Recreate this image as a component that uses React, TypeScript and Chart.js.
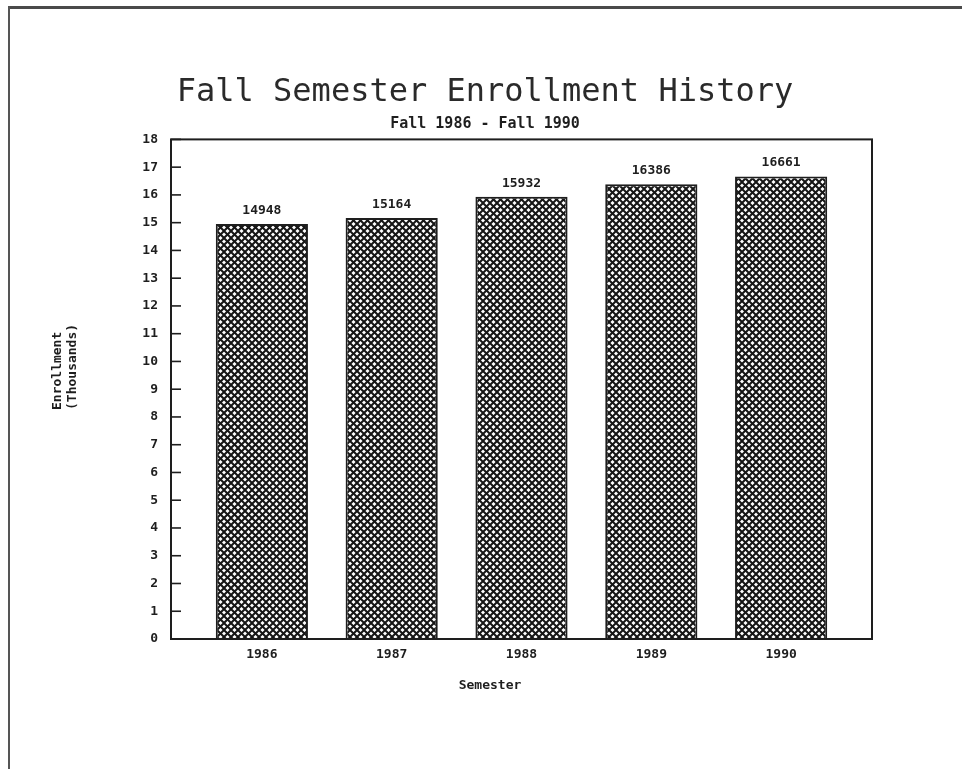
import React, { useEffect, useRef } from "react";
import { Chart, registerables } from "chart.js";

Chart.register(...registerables);

// ---- data ----
const semesters = [1986, 1987, 1988, 1989, 1990];
const enrollment = [14948, 15164, 15932, 16386, 16661];
const yMin = 0;
const yMax = 18;
const xMin = 1985.3;
const xMax = 1990.7;
const titleText = "Fall Semester Enrollment History";
const subtitleText = "Fall 1986 - Fall 1990";
const xAxisTitle = "Semester";
const yAxisTitle = ["Enrollment", "(Thousands)"];

const MONO = "'DejaVu Sans Mono', monospace";
const INK = "#1e1e1e";

function makeHatch(): CanvasPattern | string {
  const n = 7;
  const c = document.createElement("canvas");
  c.width = n;
  c.height = n;
  const g = c.getContext("2d");
  if (!g) return "#555";
  g.fillStyle = "#ffffff";
  g.fillRect(0, 0, n, n);
  g.strokeStyle = "#161616";
  g.lineWidth = 2;
  for (const o of [-n, 0, n]) {
    g.beginPath();
    g.moveTo(o, 0);
    g.lineTo(o + n, n);
    g.stroke();
    g.beginPath();
    g.moveTo(o + n, 0);
    g.lineTo(o, n);
    g.stroke();
  }
  return g.createPattern(c, "repeat") || "#555";
}

const framePlugin = {
  id: "frame",
  afterDraw(chart: any) {
    const { ctx, chartArea: a, scales } = chart;
    const y = scales.y;
    ctx.save();
    ctx.strokeStyle = INK;
    ctx.lineWidth = 2;
    ctx.strokeRect(a.left, a.top, a.right - a.left, a.bottom - a.top);
    ctx.lineWidth = 1.6;
    y.ticks.forEach((t: any) => {
      const py = y.getPixelForValue(t.value);
      ctx.beginPath();
      ctx.moveTo(a.left, py);
      ctx.lineTo(a.left + 10, py);
      ctx.stroke();
    });
    ctx.restore();
  },
};

const valueLabelPlugin = {
  id: "valueLabels",
  afterDatasetsDraw(chart: any) {
    const { ctx } = chart;
    const meta = chart.getDatasetMeta(0);
    ctx.save();
    ctx.fillStyle = INK;
    ctx.font = `bold 13px ${MONO}`;
    ctx.textAlign = "center";
    ctx.textBaseline = "bottom";
    meta.data.forEach((bar: any, i: number) => {
      ctx.fillText(String(enrollment[i]), bar.x, bar.y - 7);
    });
    ctx.restore();
  },
};

const axisTitlePlugin = {
  id: "axisTitles",
  afterDraw(chart: any) {
    const { ctx } = chart;
    ctx.save();
    ctx.fillStyle = INK;
    ctx.font = `bold 13px ${MONO}`;
    ctx.textAlign = "center";
    ctx.textBaseline = "middle";
    ctx.fillText(xAxisTitle, 490, 686);
    ctx.translate(0, 410);
    ctx.rotate(-Math.PI / 2);
    ctx.textAlign = "left";
    ctx.fillText(yAxisTitle[0], 0, 58);
    ctx.fillText(yAxisTitle[1], 0, 73);
    ctx.restore();
  },
};

export default function App() {
  const ref = useRef<HTMLCanvasElement | null>(null);

  useEffect(() => {
    if (!ref.current) return;
    const pattern = makeHatch();
    const chart = new Chart(ref.current, {
      type: "bar",
      data: {
        datasets: [
          {
            data: semesters.map((s, i) => ({ x: s, y: enrollment[i] / 1000 })),
            backgroundColor: pattern as any,
            borderColor: INK,
            borderWidth: 2,
            borderSkipped: "bottom",
            barPercentage: 0.71,
            categoryPercentage: 1,
          },
        ],
      },
      options: {
        responsive: false,
        animation: false,
        layout: { padding: { left: 98, right: 90, top: 0, bottom: 90 } },
        plugins: {
          legend: { display: false },
          tooltip: { enabled: false },
          title: {
            display: true,
            text: titleText,
            color: "#2a2a2a",
            font: { family: MONO, size: 32, weight: "normal" },
            padding: { top: 73, bottom: 4 },
          },
          subtitle: {
            display: true,
            text: subtitleText,
            color: INK,
            font: { family: MONO, size: 15, weight: "bold" },
            padding: { top: 0, bottom: 6 },
          },
        },
        scales: {
          x: {
            type: "linear",
            min: xMin,
            max: xMax,
            bounds: "data",
            offset: false,
            grid: { display: false, drawTicks: false, offset: false },
            border: { display: false },
            afterBuildTicks: (s: any) => {
              s.ticks = semesters.map((v) => ({ value: v }));
            },
            ticks: {
              autoSkip: false,
              maxRotation: 0,
              padding: 8,
              color: INK,
              font: { family: MONO, size: 13, weight: "bold" },
              callback: (v: any) => String(v),
            },
            afterFit: (s: any) => {
              s.height = 40;
            },
          },
          y: {
            min: yMin,
            max: yMax,
            grid: { display: false, drawTicks: false },
            border: { display: false },
            ticks: {
              stepSize: 1,
              padding: 13,
              color: INK,
              font: { family: MONO, size: 13, weight: "bold" },
            },
            afterFit: (s: any) => {
              s.width = 73;
            },
          },
        },
      } as any,
      plugins: [framePlugin, valueLabelPlugin, axisTitlePlugin],
    });
    return () => chart.destroy();
  }, []);

  return (
    <div
      style={{
        position: "fixed",
        left: 0,
        top: 0,
        width: 962,
        height: 769,
        background: "#ffffff",
        overflow: "hidden",
      }}
    >
      <canvas ref={ref} width={962} height={769} style={{ display: "block" }} />
      <div style={{ position: "absolute", left: 8, top: 6, width: 954, height: 3, background: "#4a4a4a" }} />
      <div style={{ position: "absolute", left: 8, top: 6, width: 2, height: 763, background: "#555" }} />
    </div>
  );
}
